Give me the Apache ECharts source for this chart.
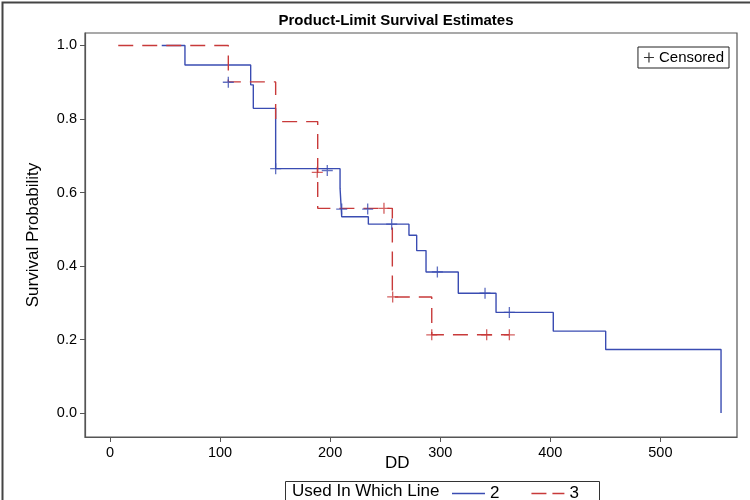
<!DOCTYPE html>
<html>
<head>
<meta charset="utf-8">
<script src="https://cdn.jsdelivr.net/npm/echarts@6/dist/echarts.min.js"></script>
<style>
html,body{margin:0;padding:0;background:#fff;}
#chart{width:750px;height:500px;}
</style>
</head>
<body>
<div id="chart"></div>
<script>
// ---- data ----
const blueTime = [47, 68.1, 127.8, 130.2, 150.5, 209, 210.5, 234.7, 271.6, 278.6, 287.1, 316.4, 350.7, 402.7, 450.3, 555.1];
const blueSurv = [1.0, 0.947, 0.893, 0.829, 0.665, 0.612, 0.534, 0.514, 0.484, 0.442, 0.384, 0.326, 0.274, 0.223, 0.173, 0.0];
const redTime = [7.5, 107.5, 150.5, 188.7, 256.5, 292.3, 362.8];
const redSurv = [1.0, 0.901, 0.793, 0.557, 0.316, 0.213, 0.213];
const blueCensTime = [107.5, 150.5, 197.4, 210.5, 234.1, 255.9, 297.4, 340.7, 362.8];
const blueCensSurv = [0.90, 0.665, 0.66, 0.555, 0.555, 0.514, 0.384, 0.326, 0.274];
const redCensTime = [188.3, 248.9, 256.8, 292.3, 342.2, 362.8];
const redCensSurv = [0.655, 0.557, 0.316, 0.213, 0.213, 0.213];
const xTicks = [0, 100, 200, 300, 400, 500];
const yTicks = [0, 0.2, 0.4, 0.6, 0.8, 1.0];
const groupNames = ['2', '3'];

const pair = (xs, ys) => xs.map((x, i) => [x, ys[i]]);
const BLUE = '#3a4cb2';
const RED = '#c83a3a';
const FONT = '"Liberation Sans", Arial, sans-serif';
const PLUS = 'path://M4.4,0 H5.6 V4.4 H10 V5.6 H5.6 V10 H4.4 V5.6 H0 V4.4 H4.4 Z';
const EXT = 'M0,0 h0.01 v0.01 h-0.01 Z M0,12 h0.01 v0.01 h-0.01 Z ';
const SOLID_ICON = 'path://' + EXT + 'M0,5.35 H33 V6.65 H0 Z';
const DASH_ICON = 'path://' + EXT + 'M0,5.35 H15 V6.65 H0 Z M21,5.35 H33 V6.65 H21 Z';

const chart = echarts.init(document.getElementById('chart'), null, {renderer: 'canvas'});
chart.setOption({
  animation: false,
  backgroundColor: '#fff',
  title: {
    text: 'Product-Limit Survival Estimates',
    left: 391, top: 8, textAlign: 'center',
    textStyle: {fontFamily: FONT, fontSize: 15, fontWeight: 'bold', color: '#000'}
  },
  grid: {
    left: 85, right: 13, top: 33, bottom: 63,
    show: true, borderColor: '#555', borderWidth: 1.2, backgroundColor: '#fff'
  },
  xAxis: {
    type: 'value', min: -22.7, max: 569.6,
    splitLine: {show: false},
    axisLine: {show: true, onZero: false, lineStyle: {color: '#555', width: 1.2}},
    axisTick: {show: true, customValues: xTicks, length: 5, lineStyle: {color: '#555'}},
    axisLabel: {customValues: xTicks, fontFamily: FONT, fontSize: 14.5, color: '#000', margin: 8}
  },
  yAxis: {
    type: 'value', min: -0.065, max: 1.034,
    splitLine: {show: false},
    axisLine: {show: true, onZero: false, lineStyle: {color: '#555', width: 1.2}},
    axisTick: {show: true, customValues: yTicks, length: 5, lineStyle: {color: '#555'}},
    axisLabel: {customValues: yTicks, fontFamily: FONT, fontSize: 14.5, color: '#000', margin: 8,
      formatter: v => v.toFixed(1)},
    name: 'Survival Probability', nameLocation: 'middle', nameGap: 43,
    nameTextStyle: {fontFamily: FONT, fontSize: 17, color: '#000'}
  },
  legend: [{
    data: [{name: 'Censored', icon: PLUS, itemStyle: {color: '#000'}}],
    right: 21, top: 47, orient: 'horizontal',
    itemWidth: 10, itemHeight: 10, itemGap: 4,
    padding: [3, 5, 3, 6],
    borderColor: '#222', borderWidth: 1,
    textStyle: {fontFamily: FONT, fontSize: 15, color: '#000'},
    selectedMode: false
  }, {
    data: [{name: groupNames[0], icon: SOLID_ICON}, {name: groupNames[1], icon: DASH_ICON}],
    left: 452, top: 485, padding: 0,
    itemWidth: 33, itemHeight: 12, itemGap: 32,
    textStyle: {fontFamily: FONT, fontSize: 17, color: '#000'},
    selectedMode: false
  }],
  graphic: [
    {type: 'rect', left: 0, top: 0, shape: {width: 749, height: 499},
     style: {fill: 'none', stroke: '#444', lineWidth: 2}, silent: true},
    {type: 'text', left: 385, top: 455, style: {text: 'DD', font: '17px ' + FONT, fill: '#000'}},
    {type: 'rect', left: 283, top: 479, shape: {width: 314, height: 30},
     style: {fill: 'none', stroke: '#333', lineWidth: 1}, silent: true},
    {type: 'text', left: 292, top: 483, style: {text: 'Used In Which Line', font: '17px ' + FONT, fill: '#000'}}
  ],
  series: [
    {
      name: groupNames[0], type: 'line', step: 'end', symbol: 'none',
      data: pair(blueTime, blueSurv),
      lineStyle: {color: BLUE, width: 1.4}, itemStyle: {color: BLUE}, z: 2
    },
    {
      name: groupNames[1], type: 'line', step: 'end', symbol: 'none',
      data: pair(redTime, redSurv),
      lineStyle: {color: RED, width: 1.4, type: [15, 9]}, itemStyle: {color: RED}, z: 3
    },
    {
      name: 'Censored', type: 'scatter', symbol: PLUS, symbolSize: 11,
      data: pair(blueCensTime, blueCensSurv), itemStyle: {color: BLUE}, z: 4
    },
    {
      name: 'Censored', type: 'scatter', symbol: PLUS, symbolSize: 11,
      data: pair(redCensTime, redCensSurv), itemStyle: {color: RED}, z: 4
    }
  ]
});
</script>
</body>
</html>
